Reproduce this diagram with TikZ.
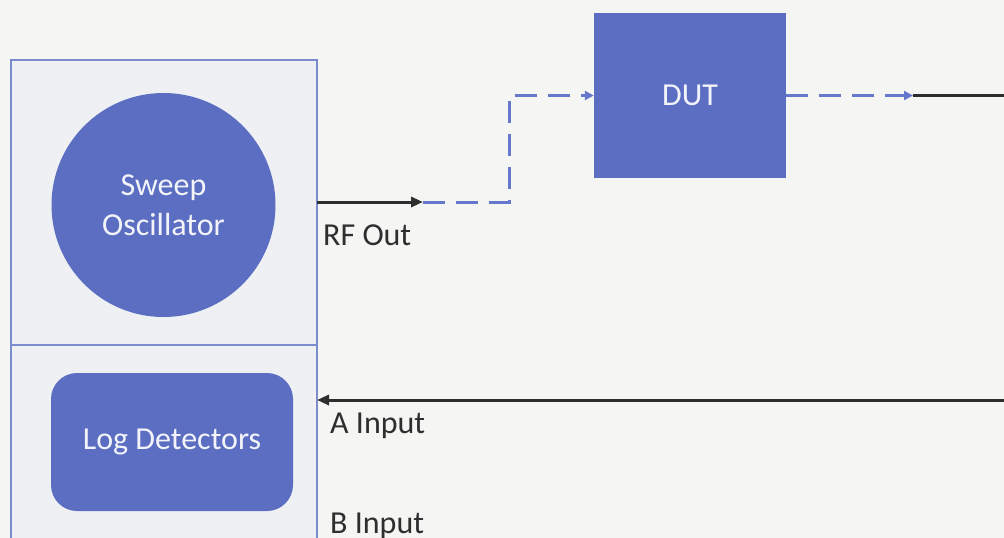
\documentclass[tikz,border=0pt]{standalone}
\usepackage{fontspec}
\setmainfont{Carlito}
\usetikzlibrary{arrows.meta}
\definecolor{paper}{HTML}{F5F5F3}
\definecolor{panel}{HTML}{EEF0F3}
\definecolor{unitblue}{HTML}{5B6EC1}
\definecolor{dashblue}{HTML}{6678CC}
\definecolor{ink}{HTML}{2E2E2E}
\tikzset{
  unit/.style={
    fill=unitblue, text=white!92!unitblue, align=center,
    inner sep=0pt, font=\fontsize{32}{40}\selectfont
  },
  frame/.style={draw=unitblue!80, line width=1.3pt},
  wire/.style={draw=ink, line width=3pt, -{Triangle[length=12pt,width=10pt]}},
  dashwire/.style={
    draw=dashblue, line width=3pt, dash pattern=on 22pt off 11pt,
    -{Triangle[length=9pt,width=9pt]}
  },
  port/.style={text=ink, anchor=base west, inner sep=0pt, font=\fontsize{32}{40}\selectfont}
}
\begin{document}
\begin{tikzpicture}[x=1pt,y=-1pt]
    \clip (0,0) rectangle (1004,538);
    \fill[paper] (0,0) rectangle (1004,538);
    \filldraw[frame, fill=panel] (11,60) rectangle (317,560);
    \draw[frame] (11,345) -- (317,345);
    \node[unit, circle, minimum size=224pt] (osc) at (163.5,205) {Sweep\\Oscillator};
    \node[unit, rounded corners=26pt, minimum width=242pt, minimum height=138pt] (logdet) at (172,442) {Log Detectors};
    \node[unit, minimum width=192pt, minimum height=165pt] (dut) at (690,95.5) {DUT};
    \coordinate (rfout) at (317,202);
    \coordinate (rfend) at (423,202);
    \coordinate (bend) at (509,202);
    \coordinate (dutend) at (913,95.5);
    \coordinate (edge) at (1004,95.5);
    \coordinate (aline) at (1004,400);
    \coordinate (ain) at (317,400);
    \draw[wire] (rfout) -- (rfend);
    \draw[dashwire] (rfend) -- (bend) |- (dut.west);
    \draw[dashwire] (dut.east) -- (dutend);
    \draw[wire, -] (dutend) -- (edge);
    \draw[wire] (aline) -- (ain);
    \node[port] (rflabel) at (323,245) {RF Out};
    \node[port] (alabel) at (330,433) {A Input};
    \node[port] (blabel) at (330,533) {B Input};
\end{tikzpicture}
\end{document}
